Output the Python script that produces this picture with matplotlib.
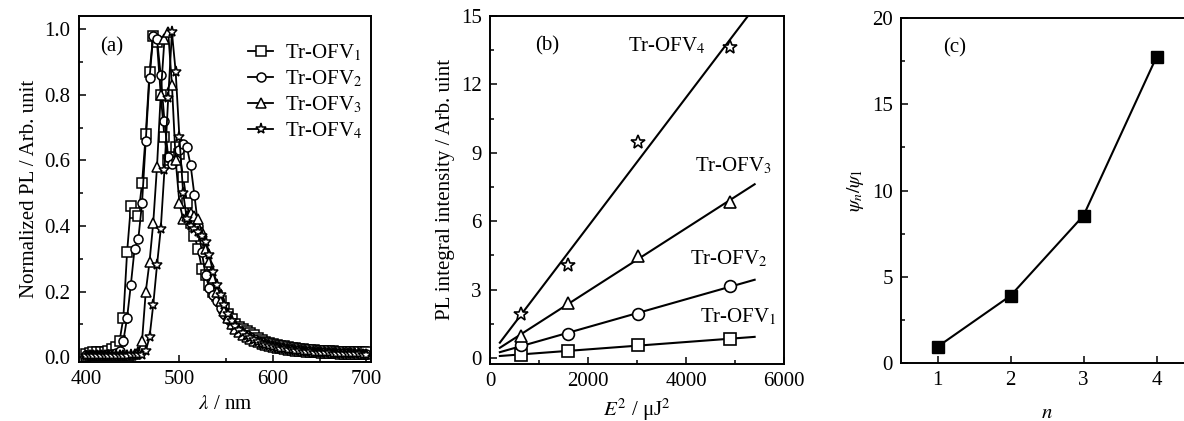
import numpy as np
import matplotlib
matplotlib.use('Agg')
import matplotlib.pyplot as plt

plt.rcParams['font.family'] = ['Liberation Serif', 'DejaVu Serif']
plt.rcParams['mathtext.fontset'] = 'stix'
plt.rcParams['font.size'] = 15

# (a) normalized PL spectra
wavelength = [400, 404, 408, 412, 416, 420, 424, 428, 432, 436,
              440, 444, 448, 452, 456, 460, 464, 468, 472, 476,
              480, 484, 488, 492, 496, 500, 504, 508, 512, 516,
              520, 524, 528, 532, 536, 540, 544, 548, 552, 556,
              560, 564, 568, 572, 576, 580, 584, 588, 592, 596,
              600, 604, 608, 612, 616, 620, 624, 628, 632, 636,
              640, 644, 648, 652, 656, 660, 664, 668, 672, 676,
              680, 684, 688, 692, 696, 700]

pl_ofv1 = [0.010, 0.012, 0.015, 0.015, 0.015, 0.016, 0.020, 0.024, 0.032, 0.050,
           0.12, 0.32, 0.46, 0.44, 0.43, 0.53, 0.68, 0.87, 0.98, 0.96,
           0.80, 0.67, 0.60, 0.61, 0.64, 0.62, 0.55, 0.47, 0.41, 0.37,
           0.33, 0.27, 0.25, 0.22, 0.20, 0.185, 0.17, 0.15, 0.13, 0.115,
           0.100, 0.092, 0.085, 0.080, 0.075, 0.068, 0.058, 0.052, 0.047, 0.043,
           0.040, 0.038, 0.035, 0.033, 0.031, 0.029, 0.027, 0.026, 0.024, 0.023,
           0.022, 0.021, 0.020, 0.020, 0.019, 0.018, 0.018, 0.017, 0.017, 0.016,
           0.016, 0.016, 0.015, 0.015, 0.015, 0.015]
pl_ofv2 = [0.005, 0.007, 0.008, 0.008, 0.008, 0.008, 0.009, 0.010, 0.012, 0.020,
           0.050, 0.12, 0.22, 0.33, 0.36, 0.47, 0.66, 0.85, 0.98, 0.97,
           0.86, 0.72, 0.61, 0.59, 0.60, 0.63, 0.65, 0.64, 0.585, 0.495,
           0.40, 0.32, 0.25, 0.21, 0.19, 0.17, 0.15, 0.13, 0.115, 0.100,
           0.090, 0.080, 0.072, 0.066, 0.060, 0.055, 0.050, 0.045, 0.041, 0.037,
           0.034, 0.032, 0.030, 0.028, 0.026, 0.024, 0.023, 0.022, 0.020, 0.019,
           0.018, 0.017, 0.016, 0.016, 0.015, 0.014, 0.014, 0.013, 0.013, 0.012,
           0.012, 0.012, 0.011, 0.011, 0.011, 0.010]
pl_ofv3 = [0.004, 0.005, 0.005, 0.005, 0.005, 0.005, 0.005, 0.005, 0.005, 0.006,
           0.006, 0.007, 0.008, 0.010, 0.015, 0.050, 0.20, 0.29, 0.41, 0.58,
           0.80, 0.97, 0.99, 0.83, 0.60, 0.47, 0.42, 0.43, 0.44, 0.43,
           0.42, 0.38, 0.33, 0.29, 0.24, 0.20, 0.17, 0.14, 0.12, 0.10,
           0.087, 0.076, 0.067, 0.060, 0.054, 0.049, 0.045, 0.041, 0.037, 0.034,
           0.031, 0.029, 0.027, 0.025, 0.023, 0.022, 0.020, 0.019, 0.018, 0.017,
           0.016, 0.015, 0.015, 0.014, 0.013, 0.013, 0.012, 0.012, 0.011, 0.011,
           0.011, 0.010, 0.010, 0.010, 0.010, 0.009]
pl_ofv4 = [0.002, 0.003, 0.003, 0.003, 0.003, 0.003, 0.003, 0.003, 0.003, 0.004,
           0.004, 0.004, 0.005, 0.005, 0.006, 0.008, 0.02, 0.06, 0.16, 0.28,
           0.39, 0.57, 0.79, 0.99, 0.87, 0.67, 0.50, 0.42, 0.40, 0.39,
           0.38, 0.37, 0.35, 0.31, 0.26, 0.22, 0.19, 0.16, 0.13, 0.11,
           0.095, 0.083, 0.073, 0.064, 0.057, 0.051, 0.046, 0.041, 0.037, 0.033,
           0.030, 0.028, 0.026, 0.024, 0.022, 0.021, 0.019, 0.018, 0.017, 0.016,
           0.015, 0.014, 0.013, 0.013, 0.012, 0.012, 0.011, 0.011, 0.010, 0.010,
           0.010, 0.009, 0.009, 0.009, 0.008, 0.008]

# (b) PL integral intensity vs E^2
e_squared = [625, 1600, 3025, 4900]
int_ofv1 = [0.15, 0.32, 0.56, 0.84]
int_ofv2 = [0.59, 1.06, 1.91, 3.18]
int_ofv3 = [0.95, 2.42, 4.47, 6.85]
int_ofv4 = [1.94, 4.10, 9.46, 13.64]
fit_range = [200, 5400]

# (c) ratio psi_n / psi_1
n_units = [1, 2, 3, 4]
psi_ratio = [0.94, 3.9, 8.55, 17.75]

names = ['Tr-OFV$_1$', 'Tr-OFV$_2$', 'Tr-OFV$_3$', 'Tr-OFV$_4$']
markers = ['s', 'o', '^', '*']


def style_axes(ax):
    for sp in ax.spines.values():
        sp.set_linewidth(1.4)
    ax.tick_params(which='both', direction='in', top=False, right=False, width=1.1)
    ax.tick_params(which='major', length=5, pad=6)
    ax.tick_params(which='minor', length=3)


fig = plt.figure(figsize=(11.84, 4.21), dpi=100)

# panel (a)
ax1 = fig.add_axes([0.0667, 0.140, 0.2466, 0.822])
spectra = [pl_ofv1, pl_ofv2, pl_ofv3, pl_ofv4]
for ys, m, name in zip(spectra, markers, names):
    ms = 8 if m == '*' else 6.5
    ax1.plot(wavelength, ys, color='black', lw=1.3, marker=m, ms=ms, mfc='white',
             mec='black', mew=1.1, label=name)
ax1.set_xlim(392.5, 705)
ax1.set_ylim(-0.015, 1.04)
ax1.set_xticks([400, 500, 600, 700])
ax1.set_xticks([450, 550, 650], minor=True)
ax1.set_yticks(np.arange(0, 1.01, 0.2))
ax1.set_yticks(np.arange(0.1, 1.0, 0.2), minor=True)
ax1.set_yticklabels(['0.0', '0.2', '0.4', '0.6', '0.8', '1.0'])
ax1.set_xlabel('$\\lambda$ / nm')
ax1.set_ylabel('Normalized PL / Arb. unit')
ax1.text(428, 0.945, '(a)', ha='center', va='center')
ax1.legend(loc='upper right', frameon=False, numpoints=1, handlelength=1.2,
           handletextpad=0.55, labelspacing=0.25, borderaxespad=0.3,
           bbox_to_anchor=(1.02, 0.965))
style_axes(ax1)

# panel (b)
ax2 = fig.add_axes([0.4139, 0.1354, 0.2483, 0.827])
intensities = [int_ofv1, int_ofv2, int_ofv3, int_ofv4]
for ys, m in zip(intensities, markers):
    k, b = np.polyfit(e_squared, ys, 1)
    xf = np.array(fit_range)
    ax2.plot(xf, k * xf + b, color='black', lw=1.5)
    ms = 10.5 if m == '*' else 8.5
    ax2.plot(e_squared, ys, ls='none', marker=m, ms=ms, mfc='white',
             mec='black', mew=1.2)
ax2.set_xlim(0, 6000)
ax2.set_ylim(-0.26, 15)
ax2.set_xticks([0, 2000, 4000, 6000])
ax2.set_xticks([1000, 3000, 5000], minor=True)
ax2.set_yticks([0, 3, 6, 9, 12, 15])
ax2.set_yticks([1.5, 4.5, 7.5, 10.5, 13.5], minor=True)
ax2.set_xlabel('$E^2$ / μJ$^2$')
ax2.set_ylabel('PL integral intensity / Arb. uint')
ax2.text(1163, 13.68, '(b)', ha='center', va='center')
ax2.text(2816, 13.68, names[3], ha='left', va='center')
ax2.text(4184, 8.4, names[2], ha='left', va='center')
ax2.text(4082, 4.35, names[1], ha='left', va='center')
ax2.text(4286, 1.8, names[0], ha='left', va='center')
style_axes(ax2)

# panel (c), cut by the right edge of the figure
ax3 = fig.add_axes([0.761, 0.1378, 0.2466, 0.819])
ax3.plot(n_units, psi_ratio, color='black', lw=1.5, marker='s', ms=9,
         mfc='black', mec='black')
ax3.set_xlim(0.5, 4.5)
ax3.set_ylim(0, 20)
ax3.set_xticks([1, 2, 3, 4])
ax3.set_yticks([0, 5, 10, 15, 20])
ax3.set_yticks([2.5, 7.5, 12.5, 17.5], minor=True)
ax3.set_xlabel('$n$', labelpad=10)
ax3.set_ylabel('$\\psi_n/\\psi_1$', fontsize=14)
ax3.text(1.23, 18.26, '(c)', ha='center', va='center')
style_axes(ax3)

fig.savefig('out.png', dpi=100)
